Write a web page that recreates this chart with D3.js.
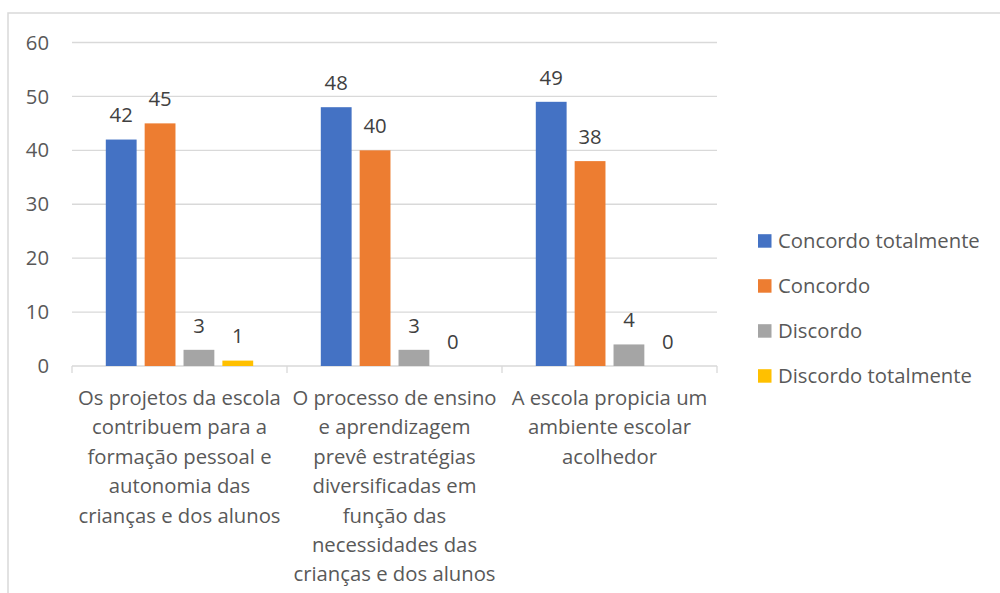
<!DOCTYPE html>
<html><head><meta charset="utf-8">
<script src="https://cdn.jsdelivr.net/npm/d3@7"></script>
<style>body{margin:0;background:#fff}svg{display:block}</style>
</head><body>
<script>
const categories = [
  ["Os projetos da escola","contribuem para a","formação pessoal e","autonomia das","crianças e dos alunos"],
  ["O processo de ensino","e aprendizagem","prevê estratégias","diversificadas em","função das","necessidades das","crianças e dos alunos"],
  ["A escola propicia um","ambiente escolar","acolhedor"]
];
const seriesNames = ["Concordo totalmente","Concordo","Discordo","Discordo totalmente"];
const concordoTotalmente = [42,48,49];
const concordo = [45,40,38];
const discordo = [3,3,4];
const discordoTotalmente = [1,0,0];
const yTicks = [0,10,20,30,40,50,60];
const colors = ["#4472C4","#ED7D31","#A5A5A5","#FFC000"];
const seriesValues = [concordoTotalmente, concordo, discordo, discordoTotalmente];

const W=1000,H=593;
const font = "'Open Sans', sans-serif";
const fs = 20.3;
const svg = d3.select("body").append("svg").attr("width",W).attr("height",H);
svg.append("rect").attr("x",8).attr("y",13).attr("width",1200).attr("height",800)
  .attr("fill","none").attr("stroke","#D9D9D9").attr("stroke-width",1.5);

const pLeft=72,pRight=717,pTop=42.5,pBottom=366;
const catIdx = categories.map((c,i)=>i);
const x0 = d3.scaleBand().domain(catIdx).range([pLeft,pRight]).padding(0);
const x1 = d3.scaleBand().domain(seriesNames).range([33.8, x0.bandwidth()-33.8]).paddingInner(0.207);
const y = d3.scaleLinear().domain([0,60]).range([pBottom,pTop]);

// gridlines
svg.append("g").selectAll("line").data(yTicks.filter(d=>d>0)).join("line")
  .attr("x1",pLeft).attr("x2",pRight).attr("y1",d=>y(d)).attr("y2",d=>y(d))
  .attr("stroke","#D9D9D9").attr("stroke-width",1.3);

// y labels
svg.append("g").selectAll("text").data(yTicks).join("text")
  .attr("x",49).attr("y",d=>y(d)).attr("dy","0.35em").attr("text-anchor","end")
  .attr("font-family",font).attr("font-size",fs).attr("fill","#595959").text(d=>d);

// x axis
svg.append("line").attr("x1",pLeft).attr("x2",pRight).attr("y1",pBottom).attr("y2",pBottom)
  .attr("stroke","#D9D9D9").attr("stroke-width",1.3);
svg.append("g").selectAll("line").data(d3.range(categories.length+1)).join("line")
  .attr("x1",i=>pLeft+i*x0.bandwidth()).attr("x2",i=>pLeft+i*x0.bandwidth())
  .attr("y1",pBottom).attr("y2",pBottom+7).attr("stroke","#D9D9D9").attr("stroke-width",1.3);

// bars
const data = [];
catIdx.forEach(ci=>seriesNames.forEach((s,si)=>data.push({ci,s,si,v:seriesValues[si][ci]})));
svg.append("g").selectAll("rect").data(data).join("rect")
  .attr("x",d=>x0(d.ci)+x1(d.s)).attr("width",x1.bandwidth())
  .attr("y",d=>y(d.v)).attr("height",d=>y(0)-y(d.v)).attr("fill",d=>colors[d.si]);

// value labels
svg.append("g").selectAll("text").data(data).join("text")
  .attr("x",d=>x0(d.ci)+x1(d.s)+x1.bandwidth()/2).attr("y",d=>y(d.v)-17.3)
  .attr("text-anchor","middle").attr("font-family",font).attr("font-size",fs)
  .attr("fill","#404040").text(d=>d.v);

// category labels
const cg = svg.append("g");
categories.forEach((lines,ci)=>{
  const t = cg.append("text").attr("text-anchor","middle").attr("font-family",font)
    .attr("font-size",fs).attr("fill","#595959");
  lines.forEach((l,li)=>t.append("tspan").attr("x",x0(ci)+x0.bandwidth()/2).attr("y",405+li*29.4).text(l));
});

// legend
const lg = svg.append("g").selectAll("g").data(seriesNames).join("g")
  .attr("transform",(d,i)=>`translate(758,${240.7+i*45})`);
lg.append("rect").attr("x",0).attr("y",-6.5).attr("width",13.5).attr("height",13.5).attr("fill",(d,i)=>colors[i]);
lg.append("text").attr("x",20).attr("y",0).attr("dy","0.35em").attr("font-family",font)
  .attr("font-size",fs).attr("fill","#595959").text(d=>d);
</script>
</body></html>
